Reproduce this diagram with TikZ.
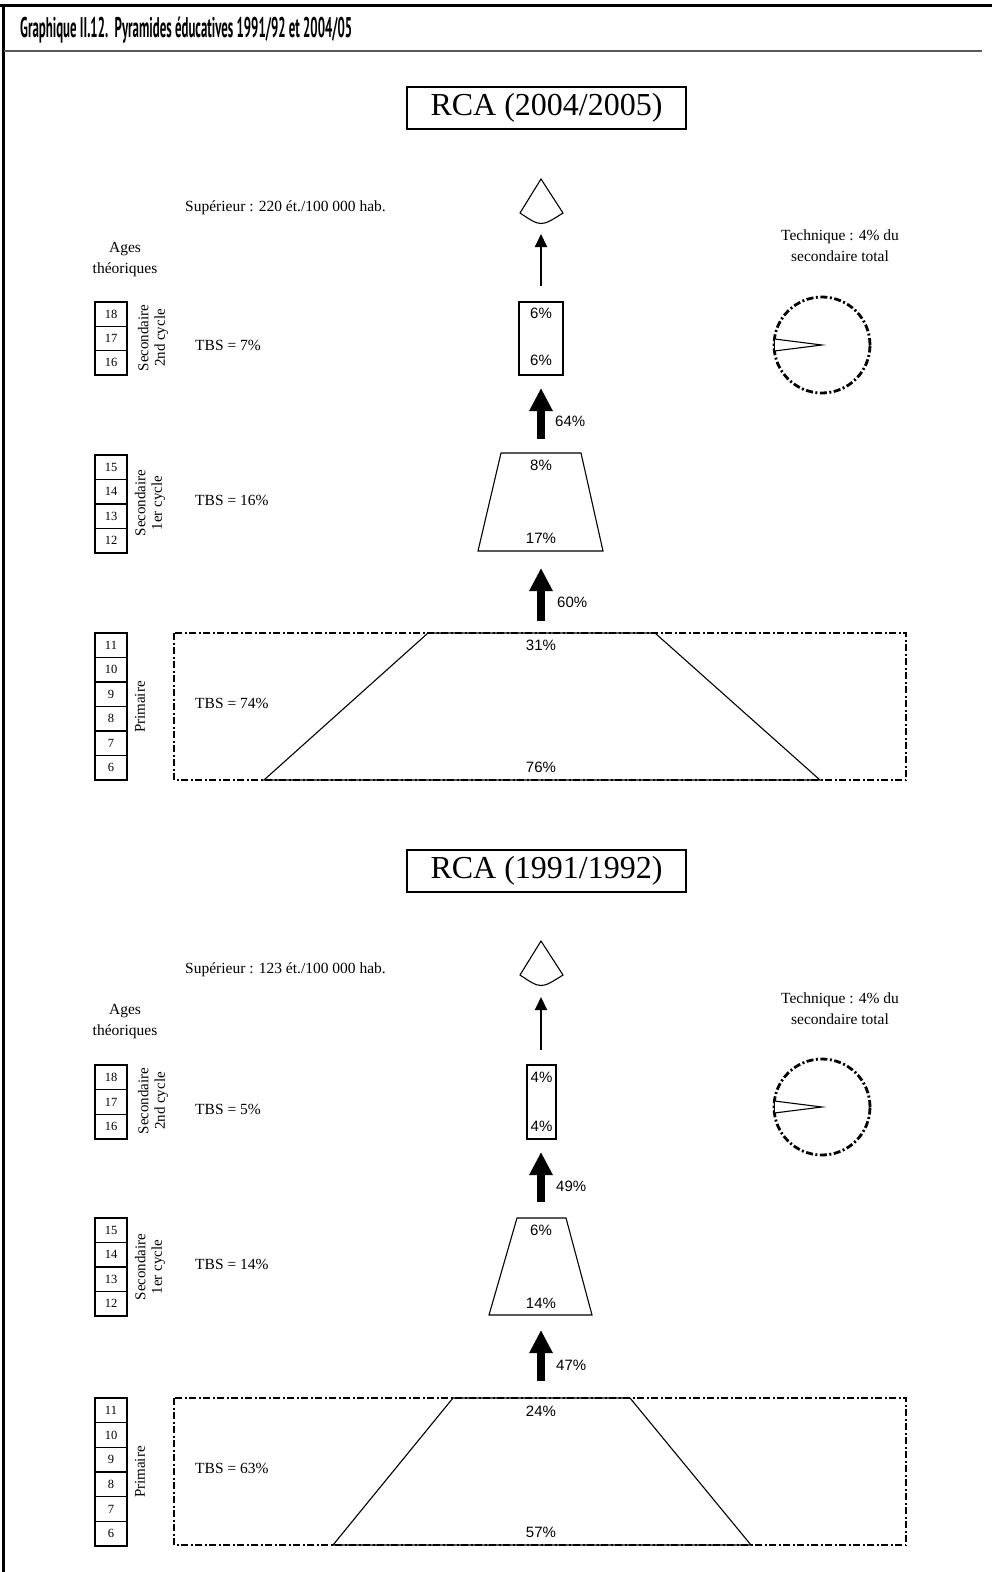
\documentclass[tikz,border=0pt]{standalone}
\usepackage{fontspec}
\setmainfont{Liberation Serif}
\newfontfamily\sansf{Liberation Sans}
\newfontfamily\titlef{PT Sans}
\usepackage{graphicx}
\usetikzlibrary{arrows.meta,calc}
\tikzset{
 lbl/.style={font=\fontsize{15.5}{21}\selectfont, inner sep=0pt},
 pct/.style={font=\sansf\fontsize{15}{17}\selectfont, inner sep=0pt},
 agebox/.style={draw, line width=1.2pt, minimum width=32pt, minimum height=#1, inner sep=0pt, font=\fontsize{12.5}{14}\selectfont},
 vlab/.style={rotate=90, align=center, font=\fontsize{15}{16.5}\selectfont, inner sep=0pt},
 outline/.style={draw, line width=1.1pt},
 dd/.style={draw, line width=2.8pt, dash pattern=on 7pt off 2.5pt on 2pt off 2.5pt},
 thinarr/.style={line width=2pt, -{Triangle[length=13pt,width=12pt]}},
 thickarr/.style={line width=8pt, -{Triangle[length=23pt,width=22pt]}},
 titlebox/.style={draw, line width=1.2pt, minimum width=279pt, minimum height=42pt, font=\fontsize{32}{36}\selectfont, inner sep=0pt},
}
\begin{document}
\begin{tikzpicture}[x=1pt,y=-1pt]
\useasboundingbox (0,0) rectangle (992,1572);
% frame
\draw[line width=3pt] (0,5.5) -- (992,5.5);
\draw[line width=3pt] (3.5,4) -- (3.5,1572);
\draw[line width=2.5pt, black!65] (3.5,51) -- (982,51);
\node[anchor=base west, inner sep=0pt] (title) at (20,37) {\resizebox{332pt}{20.5pt}{\titlef\bfseries Graphique II.12.\ \ Pyramides éducatives 1991/92 et 2004/05}};

%%%%%%%%%%%%%%%% TOP SECTION %%%%%%%%%%%%%%%%
\node[titlebox] (atitle) at (546.5,108) {RCA (2004/2005)};
\node[lbl, anchor=west] (asup) at (185,208) {Supérieur : 220 ét./100 000 hab.};
\node[lbl, align=center] (aages) at (125,260) {Ages\\théoriques};
\node[lbl, align=center] (atech) at (840,246) {Technique : 4\% du\\secondaire total};
% ages
\foreach \n [count=\i] in {18,17,16} \node[agebox=24.33pt] (aage\n) at (111,{302+24.33*(\i-0.5)}) {\n};
\foreach \n [count=\i] in {15,14,13,12} \node[agebox=24.5pt] (aage\n) at (111,{455+24.5*(\i-0.5)}) {\n};
\foreach \n [count=\i] in {11,10,9,8,7,6} \node[agebox=24.5pt] (aage\n) at (111,{633+24.5*(\i-0.5)}) {\n};
\node[vlab] (av2) at (153,338) {Secondaire\\2nd cycle};
\node[vlab] (av1) at (150,503) {Secondaire\\1er cycle};
\node[vlab] (avp) at (140,707) {Primaire};
\node[lbl, anchor=west] (atbs2) at (195,345) {TBS = 7\%};
\node[lbl, anchor=west] (atbs1) at (195,500) {TBS = 16\%};
\node[lbl, anchor=west] (atbsp) at (195,703) {TBS = 74\%};
% superieur fan
\coordinate (afan) at (541,179);
\draw[outline] (afan) -- (520,213) .. controls (541,227) .. (563,213) -- cycle;
% 2nd cycle box
\node[outline, minimum width=44pt, minimum height=73pt, inner sep=0pt] (a2c) at (541,338.5) {};
\node[pct] (a2ct) at (541,313) {6\%};
\node[pct] (a2cb) at (541,360) {6\%};
\coordinate (aS1) at (541,286); \coordinate (aE1) at (541,234);
\draw[thinarr] (aS1) -- (aE1);
% arrow 64
\coordinate (aS2) at (541,439); \coordinate (aE2) at (541,388);
\draw[thickarr] (aS2) -- (aE2);
\node[pct, anchor=west] (ap64) at (555,421) {64\%};
% 1er cycle trapezoid
\draw[outline] (501,453) -- (581,453) -- (603,551) -- (478,551) -- cycle;
\node[pct] (a1ct) at (541,465) {8\%};
\node[pct] (a1cb) at (541,538) {17\%};
% arrow 60
\coordinate (aS3) at (541,621); \coordinate (aE3) at (541,568);
\draw[thickarr] (aS3) -- (aE3);
\node[pct, anchor=west] (ap60) at (557,602) {60\%};
% primaire
\draw[dd] (174,633) rectangle (906,780);
\draw[outline] (428,633) -- (655,633) -- (820,780) -- (264,780) -- cycle;
\node[pct] (apt) at (541,645) {31\%};
\node[pct] (apb) at (541,767) {76\%};
% pie
\coordinate (apc) at (822,345);
\draw[dd] (apc) circle[radius=48pt];
\draw[line width=1.1pt, fill=white] (apc) -- ++(172.8:48pt) -- ++(0,-12pt) -- cycle;

%%%%%%%%%%%%%%%% BOTTOM SECTION %%%%%%%%%%%%%%%%
\node[titlebox] (btitle) at (546.5,871) {RCA (1991/1992)};
\node[lbl, anchor=west] (bsup) at (185,970) {Supérieur : 123 ét./100 000 hab.};
\node[lbl, align=center] (bages) at (125,1022) {Ages\\théoriques};
\node[lbl, align=center] (btech) at (840,1009) {Technique : 4\% du\\secondaire total};
\foreach \n [count=\i] in {18,17,16} \node[agebox=24.67pt] (bage\n) at (111,{1065+24.67*(\i-0.5)}) {\n};
\foreach \n [count=\i] in {15,14,13,12} \node[agebox=24.5pt] (bage\n) at (111,{1218+24.5*(\i-0.5)}) {\n};
\foreach \n [count=\i] in {11,10,9,8,7,6} \node[agebox=24.67pt] (bage\n) at (111,{1398+24.67*(\i-0.5)}) {\n};
\node[vlab] (bv2) at (153,1101) {Secondaire\\2nd cycle};
\node[vlab] (bv1) at (150,1267) {Secondaire\\1er cycle};
\node[vlab] (bvp) at (140,1472) {Primaire};
\node[lbl, anchor=west] (btbs2) at (195,1109) {TBS = 5\%};
\node[lbl, anchor=west] (btbs1) at (195,1264) {TBS = 14\%};
\node[lbl, anchor=west] (btbsp) at (195,1468) {TBS = 63\%};
\coordinate (bfan) at (541,941);
\draw[outline] (bfan) -- (520,975) .. controls (541,989) .. (563,975) -- cycle;
\node[outline, minimum width=29pt, minimum height=74pt, inner sep=0pt] (b2c) at (541.5,1102) {};
\node[pct] (b2ct) at (541.5,1077) {4\%};
\node[pct] (b2cb) at (541.5,1126) {4\%};
\coordinate (bS1) at (541,1050); \coordinate (bE1) at (541,997);
\draw[thinarr] (bS1) -- (bE1);
\coordinate (bS2) at (541,1202); \coordinate (bE2) at (541,1152);
\draw[thickarr] (bS2) -- (bE2);
\node[pct, anchor=west] (bp49) at (556,1186) {49\%};
\draw[outline] (517,1218) -- (566,1218) -- (592,1315) -- (489,1315) -- cycle;
\node[pct] (b1ct) at (541,1230) {6\%};
\node[pct] (b1cb) at (541,1303) {14\%};
\coordinate (bS3) at (541,1381); \coordinate (bE3) at (541,1330);
\draw[thickarr] (bS3) -- (bE3);
\node[pct, anchor=west] (bp47) at (556,1365) {47\%};
\draw[dd] (174,1398) rectangle (906,1545);
\draw[outline] (453,1398) -- (630,1398) -- (751,1545) -- (333,1545) -- cycle;
\node[pct] (bpt) at (541,1411) {24\%};
\node[pct] (bpb) at (541,1532) {57\%};
\coordinate (bpc) at (822,1107);
\draw[dd] (bpc) circle[radius=48pt];
\draw[line width=1.1pt, fill=white] (bpc) -- ++(172.8:48pt) -- ++(0,-12pt) -- cycle;
\end{tikzpicture}
\end{document}
